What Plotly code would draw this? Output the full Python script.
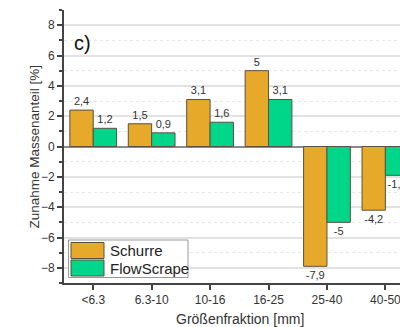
import plotly.graph_objects as go

categories = ["<6.3", "6.3-10", "10-16", "16-25", "25-40", "40-50"]
schurre = [2.4, 1.5, 3.1, 5.0, -7.9, -4.2]
flowscrape = [1.2, 0.9, 1.6, 3.1, -5.0, -1.9]
series_names = ["Schurre", "FlowScrape"]
colors = ["#E6A92A", "#00D68A"]
y_ticks = [-8, -6, -4, -2, 0, 2, 4, 6, 8]
x_title = "Größenfraktion [mm]"
y_title = "Zunahme Massenanteil [%]"

FONT = "Liberation Sans, Arial, sans-serif"


def fmt(v):
    return f"{v:g}".replace(".", ",")


fig = go.Figure()
for name, vals, col in zip(series_names, [schurre, flowscrape], colors):
    fig.add_trace(go.Bar(
        x=categories, y=vals, name=name,
        marker=dict(color=col, line=dict(color="#5a5040", width=1)),
        text=[fmt(v) for v in vals], textposition="outside",
        textfont=dict(family=FONT, size=11, color="#333333"),
        showlegend=False,
    ))

fig.update_layout(
    width=400, height=327,
    margin=dict(l=64, r=0, t=10, b=44),
    paper_bgcolor="white", plot_bgcolor="white",
    barmode="group", bargap=0.2, bargroupgap=0,
    font=dict(family=FONT, color="#333333"),
    xaxis=dict(
        type="category", range=[-0.5, 5.25], automargin=False,
        showline=True, linecolor="#444444", linewidth=2,
        ticks="outside", ticklen=5, tickwidth=1.5, tickcolor="#444444",
        tickfont=dict(size=12, color="#333333"),
        showgrid=False, zeroline=False,
    ),
    yaxis=dict(
        range=[-9, 9], tickvals=y_ticks, automargin=False,
        showline=True, linecolor="#444444", linewidth=2,
        ticks="outside", ticklen=5, tickwidth=1.5, tickcolor="#444444",
        tickfont=dict(size=12, color="#333333"),
        showgrid=True, gridcolor="#e2e2e2", gridwidth=1.5,
        zeroline=True, zerolinecolor="#8a8a8a", zerolinewidth=1.5,
        minor=dict(dtick=1, tick0=1, ticks="outside", ticklen=3, tickcolor="#444444",
                   showgrid=True, gridcolor="#e8e8e8", griddash="dot", gridwidth=1),
    ),
)


def px2x(p):
    return (p - 64) / 336.0


def py2y(p):
    return (283 - p) / 273.0


# axis titles
fig.add_annotation(text=x_title, xref="paper", yref="paper", x=px2x(240), y=py2y(319),
                   xanchor="center", yanchor="middle", showarrow=False,
                   font=dict(family=FONT, size=14, color="#333333"))
fig.add_annotation(text=y_title, xref="paper", yref="paper", x=px2x(34), y=py2y(146.5),
                   xanchor="center", yanchor="middle", textangle=-90, showarrow=False,
                   font=dict(family=FONT, size=13.5, color="#333333"))

# "c)" panel label
fig.add_annotation(text="c)", xref="paper", yref="paper", x=px2x(72), y=py2y(43),
                   xanchor="left", yanchor="middle", showarrow=False,
                   font=dict(family=FONT, size=20, color="#111111"))

# custom legend (large swatches)
fig.add_shape(type="rect", xref="paper", yref="paper",
              x0=px2x(68.5), x1=px2x(188), y0=py2y(277.5), y1=py2y(240),
              line=dict(color="#999999", width=1), fillcolor="white", layer="above")
for i, (name, col) in enumerate(zip(series_names, colors)):
    top = 242.5 + i * 17.5
    fig.add_shape(type="rect", xref="paper", yref="paper",
                  x0=px2x(71), x1=px2x(104), y0=py2y(top + 16), y1=py2y(top),
                  line=dict(color="#5a5040", width=1), fillcolor=col, layer="above")
    fig.add_annotation(text=name, xref="paper", yref="paper",
                       x=px2x(108), y=py2y(top + 8), xanchor="left", yanchor="middle",
                       showarrow=False, font=dict(family=FONT, size=15, color="#222222"))

fig.write_html("out.html", config={"displayModeBar": False},
               post_script="document.body.style.margin='0';document.body.style.overflow='hidden';")
